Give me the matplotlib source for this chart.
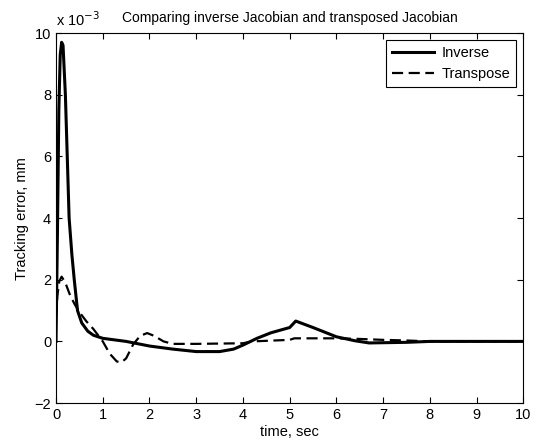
import matplotlib.pyplot as plt
import numpy as np

plt.rcParams['font.family'] = ['Liberation Sans', 'DejaVu Sans']

# tracking error, units of 1e-3 mm
t_inv = [0, 0.03, 0.06, 0.09, 0.12, 0.15, 0.2, 0.28, 0.34, 0.39, 0.46, 0.55, 0.68, 0.8, 1.0,
         1.5, 2.0, 2.5, 3.0, 3.5, 3.8, 4.0, 4.3, 4.6, 5.0, 5.13, 5.5, 6.0, 6.4, 6.7, 7.5, 8.0, 9.0, 10.0]
e_inv = [0, 3.5, 7.5, 9.3, 9.7, 9.6, 8.0, 4.0, 2.8, 2.0, 1.0, 0.6, 0.33, 0.2, 0.1,
         0.0, -0.15, -0.25, -0.33, -0.33, -0.25, -0.12, 0.1, 0.28, 0.45, 0.66, 0.45, 0.15, 0.02, -0.05, -0.03, 0.0, 0.0, 0.0]

t_tr = [0, 0.03, 0.07, 0.12, 0.2, 0.3, 0.4, 0.5, 0.65, 0.8, 1.0, 1.15, 1.3, 1.4, 1.5,
        1.65, 1.8, 1.95, 2.1, 2.3, 2.5, 3.0, 4.0, 4.2, 5.0, 5.1, 6.0, 6.5, 7.0, 7.5, 8.0, 9.0, 10.0]
e_tr = [0.8, 1.5, 1.95, 2.1, 1.9, 1.5, 1.2, 0.95, 0.65, 0.4, 0.0, -0.4, -0.65, -0.68, -0.55,
        -0.1, 0.18, 0.27, 0.18, 0.0, -0.08, -0.08, -0.06, 0.0, 0.05, 0.1, 0.1, 0.08, 0.05, 0.03, 0.0, 0.0, 0.0]

fig = plt.figure(figsize=(5.44, 4.41), dpi=100)
ax = fig.add_axes([0.103, 0.086, 0.859, 0.839])

ax.plot(t_inv, e_inv, color='black', lw=2.2, label='Inverse')
ax.plot(t_tr, e_tr, color='black', lw=1.6, ls=(0, (5, 2.5)), label='Transpose')

ax.set_xlim(0, 10)
ax.set_ylim(-2, 10)
ax.set_xticks(np.arange(0, 11, 1))
ax.set_yticks(np.arange(-2, 11, 2))
ax.tick_params(direction='in', top=True, right=True, labelsize=10.5, length=4)

ax.set_xlabel('time, sec', fontsize=10.5, labelpad=2)
ax.set_ylabel('Tracking error, mm', fontsize=10.5, labelpad=4)
ax.set_title('Comparing inverse Jacobian and transposed Jacobian', fontsize=10, pad=8)
ax.text(0.0, 1.012, 'x 10$^{-3}$', transform=ax.transAxes, fontsize=10.5, ha='left', va='bottom')

leg = ax.legend(loc='upper right', fontsize=10.5, fancybox=False, edgecolor='black',
                framealpha=1, handlelength=2.9, handletextpad=0.5, borderaxespad=0.5)
leg.get_frame().set_linewidth(0.8)

fig.savefig('out.png', dpi=100)
